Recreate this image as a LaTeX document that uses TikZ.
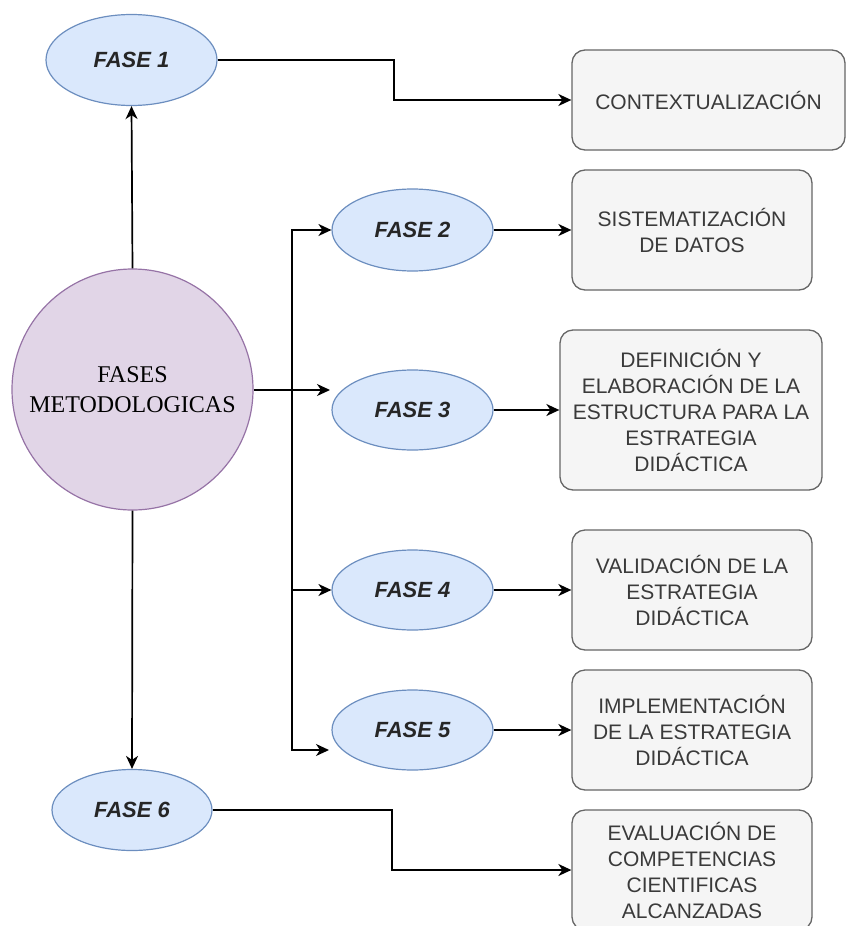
\documentclass[tikz,border=0pt]{standalone}
\usepackage{fontspec}
\setmainfont{Liberation Serif}
\newfontfamily\sansf{Liberation Sans}
\usetikzlibrary{shapes.geometric,arrows.meta}
\definecolor{ellfill}{HTML}{DAE8FC}
\definecolor{elldraw}{HTML}{6C8EBF}
\definecolor{circfill}{HTML}{E1D5E7}
\definecolor{circdraw}{HTML}{9673A6}
\definecolor{boxfill}{HTML}{F5F5F5}
\definecolor{boxdraw}{HTML}{666666}
\definecolor{boxtext}{HTML}{3A3A3A}
\tikzset{
  fase/.style={ellipse, draw=elldraw, fill=ellfill, line width=1.2pt, inner sep=0pt,
    font=\sansf\bfseries\itshape\fontsize{22}{26}\selectfont, text=black!85},
  tbox/.style={draw=boxdraw, fill=boxfill, rounded corners=13pt, line width=1.3pt,
    inner sep=0pt, align=center, text=boxtext,
    font=\sansf\fontsize{21}{26}\selectfont},
  mainc/.style={circle, draw=circdraw, fill=circfill, line width=1.2pt, inner sep=0pt,
    minimum size=241pt, align=center, font=\fontsize{24}{30}\selectfont},
  conn/.style={line width=1.7pt, -{Stealth[length=13pt,width=12pt,inset=4pt]}}
}
\begin{document}
\begin{tikzpicture}[x=1pt,y=-1pt]
\useasboundingbox (0,0) rectangle (846,926);
\clip (0,0) rectangle (846,926);
% main circle
\node[mainc] (main) at (132.5,389.5) {FASES\\METODOLOGICAS};
% ellipses
\node[fase, minimum width=171pt, minimum height=91pt] (f1) at (131.5,60) {FASE 1};
\node[fase, minimum width=161pt, minimum height=82pt] (f2) at (412.5,230) {FASE 2};
\node[fase, minimum width=161pt, minimum height=80pt] (f3) at (412.5,410) {FASE 3};
\node[fase, minimum width=161pt, minimum height=80pt] (f4) at (412.5,590) {FASE 4};
\node[fase, minimum width=161pt, minimum height=80pt] (f5) at (412.5,730) {FASE 5};
\node[fase, minimum width=160pt, minimum height=81pt] (f6) at (132,810) {FASE 6};
% boxes
\node[tbox, minimum width=273pt, minimum height=100pt] (b1) at (708.5,100) {CONTEXTUALIZACIÓN};
\node[tbox, minimum width=240pt, minimum height=120pt] (b2) at (692,230) {SISTEMATIZACIÓN\\DE DATOS};
\node[tbox, minimum width=262pt, minimum height=160pt] (b3) at (691,410) {DEFINICIÓN Y\\ELABORACIÓN DE LA\\ESTRUCTURA PARA LA\\ESTRATEGIA\\DIDÁCTICA};
\node[tbox, minimum width=240pt, minimum height=120pt] (b4) at (692,590) {VALIDACIÓN DE LA\\ESTRATEGIA\\DIDÁCTICA};
\node[tbox, minimum width=240pt, minimum height=120pt] (b5) at (692,730) {IMPLEMENTACIÓN\\DE LA ESTRATEGIA\\DIDÁCTICA};
\node[tbox, minimum width=240pt, minimum height=120pt] (b6) at (692,870) {EVALUACIÓN DE\\COMPETENCIAS\\CIENTIFICAS\\ALCANZADAS};
% helper coordinates
\coordinate (t3) at (330,390);
\coordinate (t5) at (329,750);
% connectors
\draw[conn] (main.north) -- (f1.south);
\draw[conn] (main.south) -- (f6.north);
\draw[conn] (f1.east) -- (394,60) |- (b1.west);
\draw[conn] (f6.east) -- (392,810) |- (b6.west);
\draw[conn] (main.east |- t3) -- (t3);
\draw[conn] (292,390) |- (f2.west);
\draw[conn] (292,390) |- (f4.west);
\draw[conn] (292,390) |- (t5);
\draw[conn] (f2.east) -- (b2.west);
\draw[conn] (f3.east) -- (b3.west);
\draw[conn] (f4.east) -- (b4.west);
\draw[conn] (f5.east) -- (b5.west);
\end{tikzpicture}
\end{document}
